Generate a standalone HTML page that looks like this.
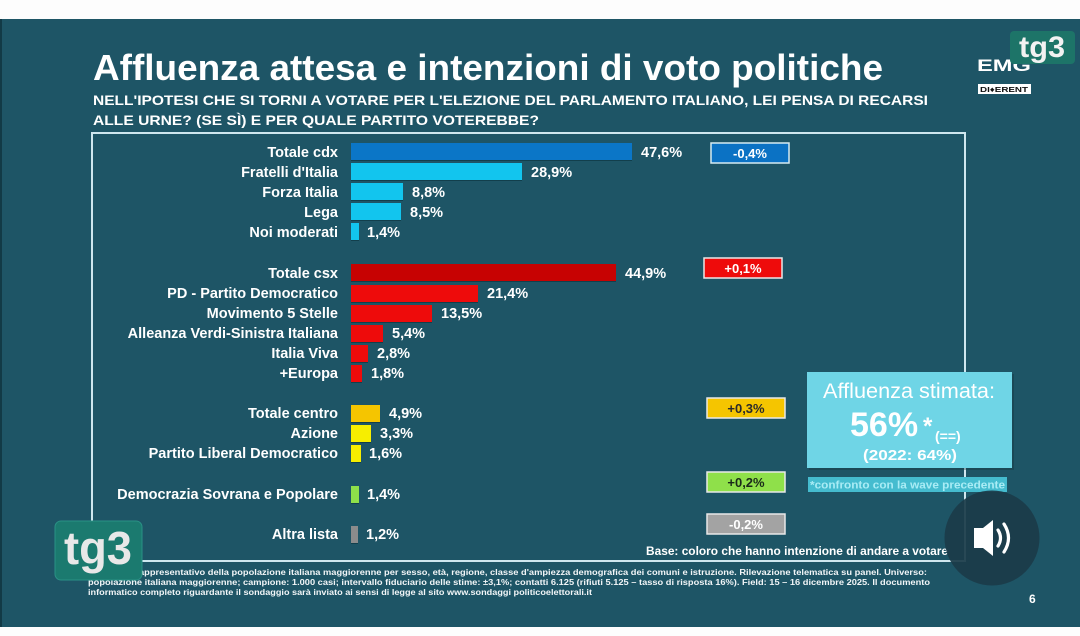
<!DOCTYPE html>
<html><head><meta charset="utf-8"><style>
html,body{margin:0;padding:0;background:#fff;width:1080px;height:636px;overflow:hidden}
svg{display:block}
text{font-family:"Liberation Sans",Arial,sans-serif}
</style></head><body>
<svg width="1080" height="636" viewBox="0 0 1080 636" xmlns="http://www.w3.org/2000/svg">
<rect x="0" y="0" width="1080" height="636" fill="#fdfdfd"/>
<rect x="0" y="19" width="1080" height="608" fill="#1e5566"/>
<rect x="0" y="19" width="2" height="608" fill="#123a46"/>

<!-- title -->
<text x="93" y="80" font-size="36.5" font-weight="bold" fill="#ffffff" textLength="790" lengthAdjust="spacingAndGlyphs">Affluenza attesa e intenzioni di voto politiche</text>
<text x="93" y="105" font-size="14" font-weight="bold" fill="#ffffff" textLength="835" lengthAdjust="spacingAndGlyphs">NELL'IPOTESI CHE SI TORNI A VOTARE PER L'ELEZIONE DEL PARLAMENTO ITALIANO, LEI PENSA DI RECARSI</text>
<text x="93" y="125" font-size="14" font-weight="bold" fill="#ffffff" textLength="446" lengthAdjust="spacingAndGlyphs">ALLE URNE? (SE SÌ) E PER QUALE PARTITO VOTEREBBE?</text>

<!-- top-right logo -->
<text x="977" y="71" font-size="17" font-weight="bold" fill="#ffffff" textLength="54" lengthAdjust="spacingAndGlyphs">EMG</text>
<rect x="978" y="84" width="53" height="10" fill="#ffffff"/>
<text x="980" y="92" font-size="7.5" font-weight="bold" fill="#111" textLength="48" lengthAdjust="spacingAndGlyphs">DI♦ERENT</text>
<rect x="1010" y="31" width="65" height="33" rx="4" fill="#1d7468"/>
<text x="1042" y="57" font-size="30" font-weight="bold" fill="#f2f2f2" text-anchor="middle" textLength="46" lengthAdjust="spacingAndGlyphs">tg3</text>

<!-- frame -->
<rect x="92" y="133" width="873" height="428" fill="none" stroke="#cfe7ef" stroke-width="2"/>

<g font-size="14.5" font-weight="bold" fill="#ffffff">
<!-- bar shadows -->
<g fill="#123f4c">
<rect x="351" y="159" width="281" height="2"/>
<rect x="351" y="179" width="171" height="2"/>
<rect x="351" y="199" width="52" height="2"/>
<rect x="351" y="219" width="50" height="2"/>
<rect x="351" y="239" width="8" height="2"/>
<rect x="351" y="280" width="265" height="2"/>
<rect x="351" y="301" width="127" height="2"/>
<rect x="351" y="321" width="81" height="2"/>
<rect x="351" y="341" width="32" height="2"/>
<rect x="351" y="361" width="17" height="2"/>
<rect x="351" y="381" width="11" height="2"/>
<rect x="351" y="421" width="29" height="2"/>
<rect x="351" y="441" width="20" height="2"/>
<rect x="351" y="461" width="10" height="2"/>
<rect x="351" y="502" width="8" height="2"/>
<rect x="351" y="542" width="7" height="2"/>
</g>
<!-- cdx -->
<rect x="351" y="143" width="281" height="17" fill="#0b76c7"/>
<text x="338" y="157" text-anchor="end">Totale cdx</text>
<text x="641" y="157">47,6%</text>
<rect x="351" y="163" width="171" height="17" fill="#12c5ee"/>
<text x="338" y="177" text-anchor="end">Fratelli d'Italia</text>
<text x="531" y="177">28,9%</text>
<rect x="351" y="183" width="52" height="17" fill="#12c5ee"/>
<text x="338" y="197" text-anchor="end">Forza Italia</text>
<text x="412" y="197">8,8%</text>
<rect x="351" y="203" width="50" height="17" fill="#12c5ee"/>
<text x="338" y="217" text-anchor="end">Lega</text>
<text x="410" y="217">8,5%</text>
<rect x="351" y="223" width="8" height="17" fill="#12c5ee"/>
<text x="338" y="237" text-anchor="end">Noi moderati</text>
<text x="367" y="237">1,4%</text>

<!-- csx -->
<rect x="351" y="264" width="265" height="17" fill="#c70202"/>
<text x="338" y="278" text-anchor="end">Totale csx</text>
<text x="625" y="278">44,9%</text>
<rect x="351" y="285" width="127" height="17" fill="#ee0b0b"/>
<text x="338" y="298" text-anchor="end">PD - Partito Democratico</text>
<text x="487" y="298">21,4%</text>
<rect x="351" y="305" width="81" height="17" fill="#ee0b0b"/>
<text x="338" y="318" text-anchor="end">Movimento 5 Stelle</text>
<text x="441" y="318">13,5%</text>
<rect x="351" y="325" width="32" height="17" fill="#ee0b0b"/>
<text x="338" y="338" text-anchor="end">Alleanza Verdi-Sinistra Italiana</text>
<text x="392" y="338">5,4%</text>
<rect x="351" y="345" width="17" height="17" fill="#ee0b0b"/>
<text x="338" y="358" text-anchor="end">Italia Viva</text>
<text x="377" y="358">2,8%</text>
<rect x="351" y="365" width="11" height="17" fill="#ee0b0b"/>
<text x="338" y="378" text-anchor="end">+Europa</text>
<text x="371" y="378">1,8%</text>

<!-- centro -->
<rect x="351" y="405" width="29" height="17" fill="#f5c500"/>
<text x="338" y="418" text-anchor="end">Totale centro</text>
<text x="389" y="418">4,9%</text>
<rect x="351" y="425" width="20" height="17" fill="#f7ee00"/>
<text x="338" y="438" text-anchor="end">Azione</text>
<text x="380" y="438">3,3%</text>
<rect x="351" y="445" width="10" height="17" fill="#f7ee00"/>
<text x="338" y="458" text-anchor="end">Partito Liberal Democratico</text>
<text x="369" y="458">1,6%</text>

<rect x="351" y="486" width="8" height="17" fill="#8fe04a"/>
<text x="338" y="499" text-anchor="end">Democrazia Sovrana e Popolare</text>
<text x="367" y="499">1,4%</text>

<rect x="351" y="526" width="7" height="17" fill="#8c8c8c"/>
<text x="338" y="539" text-anchor="end">Altra lista</text>
<text x="366" y="539">1,2%</text>
</g>

<!-- change boxes -->
<g font-size="13" font-weight="bold" text-anchor="middle">
<rect x="711" y="143" width="78" height="20" fill="#0b72c4" stroke="#d6ebf2" stroke-width="1.5"/>
<text x="750" y="158" fill="#ffffff">-0,4%</text>
<rect x="704" y="258" width="78" height="20" fill="#ee0b0b" stroke="#e8e8e8" stroke-width="1.5"/>
<text x="743" y="273" fill="#ffffff">+0,1%</text>
<rect x="707" y="398" width="78" height="20" fill="#f5c500" stroke="#e8e8e8" stroke-width="1.5"/>
<text x="746" y="413" fill="#2a2a2a">+0,3%</text>
<rect x="707" y="472" width="78" height="20" fill="#8fe04a" stroke="#e8e8e8" stroke-width="1.5"/>
<text x="746" y="487" fill="#1a2a1a">+0,2%</text>
<rect x="707" y="514" width="78" height="20" fill="#a3a3a3" stroke="#e8e8e8" stroke-width="1.5"/>
<text x="746" y="529" fill="#ffffff">-0,2%</text>
</g>

<!-- base note -->
<text x="948" y="555" font-size="12" font-weight="bold" fill="#ffffff" text-anchor="end" textLength="302" lengthAdjust="spacingAndGlyphs">Base: coloro che hanno intenzione di andare a votare</text>

<!-- footnote -->
<g font-size="8.6" font-weight="bold" fill="#f2f6f8">
<text x="139" y="575" text-anchor="end">Campione r</text>
<text x="139" y="575" textLength="788" lengthAdjust="spacingAndGlyphs">appresentativo della popolazione italiana maggiorenne per sesso, età, regione, classe d'ampiezza demografica dei comuni e istruzione. Rilevazione telematica su panel. Universo:</text>
<text x="88" y="585" textLength="842" lengthAdjust="spacingAndGlyphs">popolazione italiana maggiorenne; campione: 1.000 casi; intervallo fiduciario delle stime: ±3,1%; contatti 6.125 (rifiuti 5.125 – tasso di risposta 16%). Field: 15 – 16 dicembre 2025. Il documento</text>
<text x="88" y="595" textLength="504" lengthAdjust="spacingAndGlyphs">informatico completo riguardante il sondaggio sarà inviato ai sensi di legge al sito www.sondaggi politicoelettorali.it</text>
</g>
<text x="1029" y="603" font-size="12" font-weight="bold" fill="#ffffff">6</text>

<!-- affluenza box -->
<rect x="809" y="374" width="205" height="96" fill="#14303a" opacity="0.35"/>
<rect x="807" y="372" width="205" height="96" fill="#6fd5e6"/>
<text x="909" y="398" font-size="21.6" fill="#ffffff" text-anchor="middle" textLength="172" lengthAdjust="spacingAndGlyphs">Affluenza stimata:</text>
<text x="850" y="436" font-size="34" font-weight="bold" fill="#ffffff">56%</text>
<text x="923" y="434" font-size="24" font-weight="bold" fill="#ffffff">*</text>
<text x="935" y="441" font-size="14" font-weight="bold" fill="#ffffff">(==)</text>
<text x="910" y="460" font-size="15" font-weight="bold" fill="#ffffff" text-anchor="middle" textLength="94" lengthAdjust="spacingAndGlyphs">(2022: 64%)</text>
<rect x="808" y="477" width="199" height="15" fill="#45bccf"/>
<text x="810" y="488.5" font-size="11" font-weight="bold" fill="#a9ecf5" textLength="195" lengthAdjust="spacingAndGlyphs">*confronto con la wave precedente</text>

<!-- bottom-left tg3 logo -->
<rect x="55" y="521" width="87" height="59" rx="6" fill="#1b7a6f"/>
<rect x="55" y="521" width="87" height="59" rx="6" fill="none" stroke="#2a9185" stroke-width="1"/>
<text x="98" y="564" font-size="46" font-weight="bold" fill="#e8e8e8" text-anchor="middle" textLength="68" lengthAdjust="spacingAndGlyphs">tg3</text>

<!-- speaker -->
<circle cx="992" cy="538" r="47.5" fill="#1b3b49" opacity="0.93"/>
<path d="M974 528 L983 528 L993 520 L993 556 L983 548 L974 548 Z" fill="#ffffff"/>
<path d="M998 530 Q1003 538 998 546" fill="none" stroke="#ffffff" stroke-width="3.2" stroke-linecap="round"/>
<path d="M1004 524 Q1013 538 1004 552" fill="none" stroke="#ffffff" stroke-width="3.2" stroke-linecap="round"/>
</svg>
</body></html>
